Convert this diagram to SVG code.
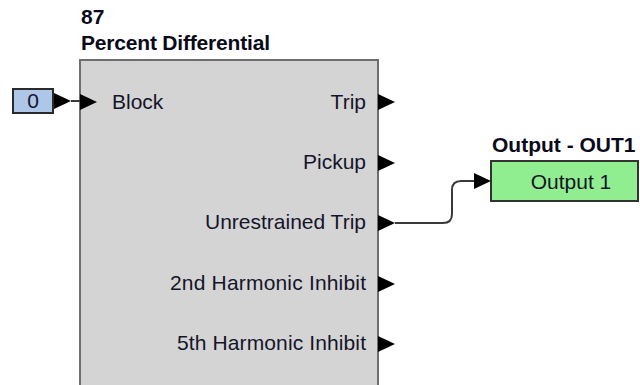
<svg xmlns="http://www.w3.org/2000/svg" xmlns:xlink="http://www.w3.org/1999/xlink" width="640" height="385" viewBox="0 0 640 385">
<style>
.lbl{font-family:"Liberation Sans",Arial,sans-serif;font-size:21px;fill:#14142a}
.ttl{font-family:"Liberation Sans",Arial,sans-serif;font-size:21px;font-weight:bold;fill:#0a0a1a}
.wire{fill:none;stroke:#3a3a3a;stroke-width:2}
</style>
<defs>
<path id="tri" d="M0,-8 L17,0 L0,8 Z" fill="#000"/>
</defs>
<rect width="640" height="385" fill="#fff"/>
<g id="block87">
<text class="ttl" x="81" y="24">87</text>
<text class="ttl" x="81" y="50" textLength="189">Percent Differential</text>
<rect x="80" y="60" width="298" height="340" fill="#d4d4d4" stroke="#6e6e6e" stroke-width="2"/>
<use xlink:href="#tri" x="80" y="102"/>
<text class="lbl" x="112" y="109">Block</text>
<text class="lbl" x="366" y="109" text-anchor="end">Trip</text>
<text class="lbl" x="366" y="169" text-anchor="end">Pickup</text>
<text class="lbl" x="366" y="229" text-anchor="end" textLength="161">Unrestrained Trip</text>
<text class="lbl" x="366" y="290" text-anchor="end" textLength="196">2nd Harmonic Inhibit</text>
<text class="lbl" x="366" y="350" text-anchor="end" textLength="189">5th Harmonic Inhibit</text>
<use xlink:href="#tri" x="378" y="102"/>
<use xlink:href="#tri" x="378" y="163"/>
<use xlink:href="#tri" x="378" y="223"/>
<use xlink:href="#tri" x="378" y="284"/>
<use xlink:href="#tri" x="378" y="344"/>
</g>
<g id="input0">
<rect x="13" y="89" width="40" height="24" fill="#aec6e8" stroke="#2a2a2a" stroke-width="2"/>
<text class="lbl" x="33" y="108" text-anchor="middle">0</text>
<use xlink:href="#tri" x="54" y="101"/>
</g>
<g id="outputOUT1">
<text class="ttl" x="492" y="152">Output - OUT1</text>
<rect x="491" y="161" width="147" height="40" fill="#90ee90" stroke="#333" stroke-width="2"/>
<text class="lbl" x="571" y="189" text-anchor="middle">Output 1</text>
</g>
<g id="connectors">
<path class="wire" d="M71,101 H80"/>
<path class="wire" d="M395,223 H443 Q452,223 452,214 V190 Q452,181 461,181 H474"/>
<use xlink:href="#tri" x="474" y="181"/>
</g>
</svg>
